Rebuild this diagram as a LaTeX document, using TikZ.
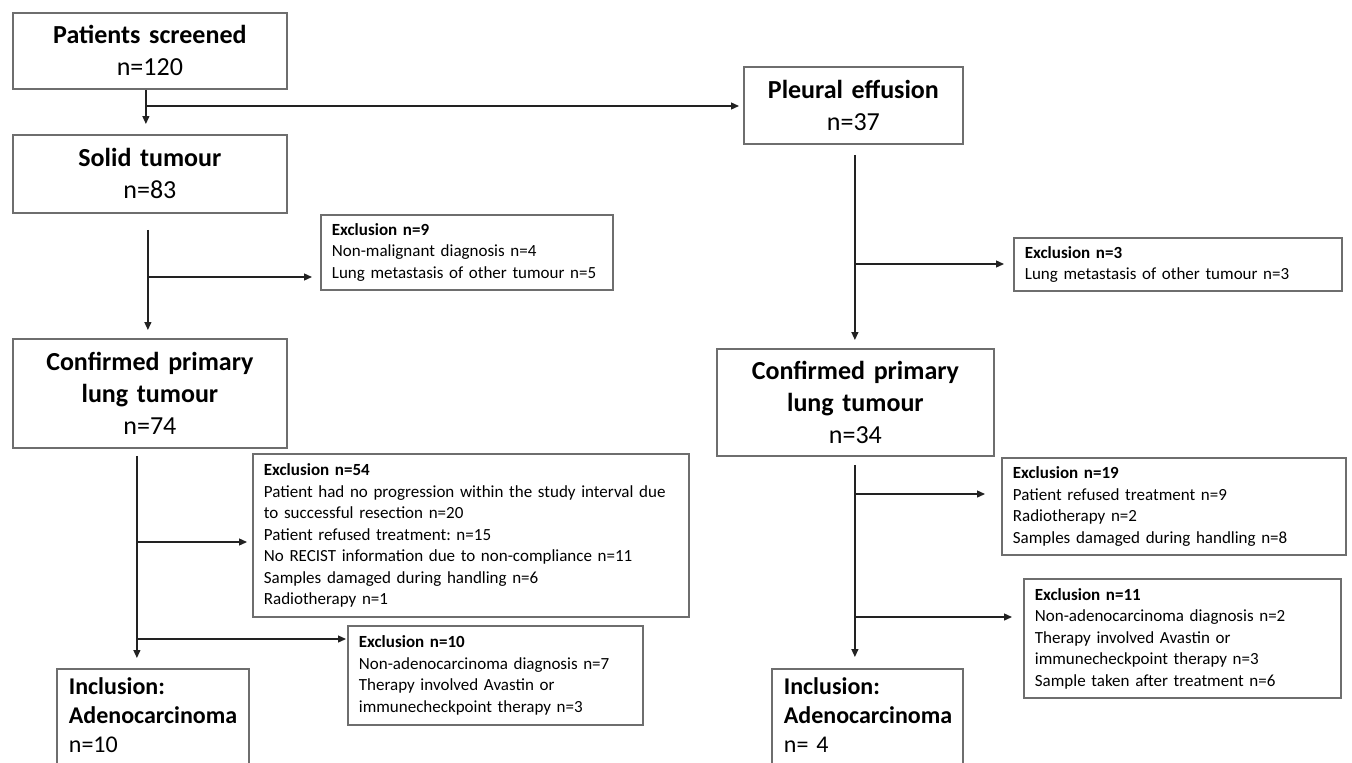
\documentclass[tikz,border=0pt]{standalone}
\usepackage{fontspec}
\setmainfont{Carlito}
\usepackage{xcolor}
\usetikzlibrary{arrows.meta,positioning,calc}
\definecolor{fcgrey}{HTML}{6E6E6E}
\definecolor{fcline}{HTML}{222222}
\frenchspacing
\tikzset{
  box/.style={draw=fcgrey, line width=1.8pt, anchor=north west, inner sep=0pt,
              align=center, font=\fontsize{26}{32}\selectfont},
  exbox/.style={box, align=left, inner xsep=11pt, font=\fontsize{17}{21.5}\selectfont},
  incbox/.style={box, align=left, inner xsep=12pt, inner ysep=9pt, text depth=75pt,
                 font=\fontsize{24}{29}\selectfont},
  flow/.style={-{Triangle[length=8pt,width=7pt]}, draw=fcline, line width=1.3pt},
}

\begin{document}
\begin{tikzpicture}[x=1pt,y=-1pt]
  \useasboundingbox (0,0) rectangle (1352,763);
  \clip (0,0) rectangle (1352,763);

  \node[box, text width=274pt, minimum height=76pt] (screen) at (12,12)
    {\textbf{Patients screened}\\n=120};
  \node[box, text width=274pt, minimum height=78pt] (solid) at (12,134)
    {\textbf{Solid tumour}\\n=83};
  \node[box, text width=219pt, minimum height=77pt] (pleural) at (743,66)
    {\textbf{Pleural effusion}\\n=37};

  \node[exbox, text width=270pt, minimum height=75pt] (excnine) at (320,214)
    {\textbf{Exclusion n=9}\\Non-malignant diagnosis n=4\\Lung metastasis of other tumour n=5};
  \node[exbox, text width=306pt, minimum height=53pt] (excthree) at (1013,237)
    {\textbf{Exclusion n=3}\\Lung metastasis of other tumour n=3};

  \node[box, text width=274pt, minimum height=109pt] (confa) at (12,338)
    {\textbf{Confirmed primary}\\\textbf{lung tumour}\\n=74};
  \node[box, text width=277pt, minimum height=107pt] (confb) at (716,348)
    {\textbf{Confirmed primary}\\\textbf{lung tumour}\\n=34};

  \node[exbox, text width=414pt, minimum height=163pt] (excfiftyfour) at (252,453)
    {\textbf{Exclusion n=54}\\
     Patient had no progression within the study interval due\\
     to successful resection n=20\\
     Patient refused treatment: n=15\\
     No RECIST information due to non-compliance n=11\\
     Samples damaged during handling n=6\\
     Radiotherapy n=1};
  \node[exbox, text width=273pt, minimum height=99pt] (excten) at (347,625)
    {\textbf{Exclusion n=10}\\Non-adenocarcinoma diagnosis n=7\\Therapy involved Avastin or\\immunecheckpoint therapy n=3};

  \node[exbox, text width=322pt, minimum height=97pt] (excnineteen) at (1001,457)
    {\textbf{Exclusion n=19}\\Patient refused treatment n=9\\Radiotherapy n=2\\Samples damaged during handling n=8};
  \node[exbox, text width=295pt, minimum height=119pt] (exceleven) at (1023,578)
    {\textbf{Exclusion n=11}\\Non-adenocarcinoma diagnosis n=2\\Therapy involved Avastin or\\immunecheckpoint therapy n=3\\Sample taken after treatment n=6};

  \node[incbox, text width=168pt] (inca) at (56,668)
    {\textbf{Inclusion:}\\\textbf{Adenocarcinoma}\\n=10};
  \node[incbox, text width=167pt] (incb) at (771,668)
    {\textbf{Inclusion:}\\\textbf{Adenocarcinoma}\\n= 4};

  \coordinate (splitpe) at (145,106);
  \coordinate (splitst) at (147,277);
  \coordinate (splitpl) at (854,264);
  \coordinate (splitcaa) at (136,542);
  \coordinate (splitcab) at (136,639);
  \coordinate (splitcba) at (854,494);
  \coordinate (splitcbb) at (854,617);

  \draw[flow, shorten >=10pt] ([xshift=-4pt]screen.south) -- ([xshift=-4pt]screen.south |- solid.north);
  \draw[flow, shorten >=4pt] (splitpe) -- (splitpe -| pleural.west);
  \draw[flow, shorten <=16pt, shorten >=8pt] ([xshift=-2pt]solid.south) -- ([xshift=-2pt]solid.south |- confa.north);
  \draw[flow, shorten >=8pt] (splitst) -- (splitst -| excnine.west);
  \draw[flow, shorten <=10pt, shorten >=8pt] ([xshift=1.5pt]pleural.south) -- ([xshift=1.5pt]pleural.south |- confb.north);
  \draw[flow, shorten >=9pt] (splitpl) -- (splitpl -| excthree.west);
  \draw[flow, shorten <=7pt, shorten >=10pt] ([xshift=-13pt]confa.south) -- ([xshift=-13pt]confa.south |- inca.north);
  \draw[flow, shorten >=5pt] (splitcaa) -- (splitcaa -| excfiftyfour.west);
  \draw[flow, shorten >=1pt] (splitcab) -- (splitcab -| excten.west);
  \draw[flow, shorten <=8pt, shorten >=11pt] ([xshift=-0.5pt]confb.south) -- ([xshift=-0.5pt]confb.south |- incb.north);
  \draw[flow, shorten >=16pt] (splitcba) -- (splitcba -| excnineteen.west);
  \draw[flow, shorten >=11pt] (splitcbb) -- (splitcbb -| exceleven.west);
\end{tikzpicture}
\end{document}
